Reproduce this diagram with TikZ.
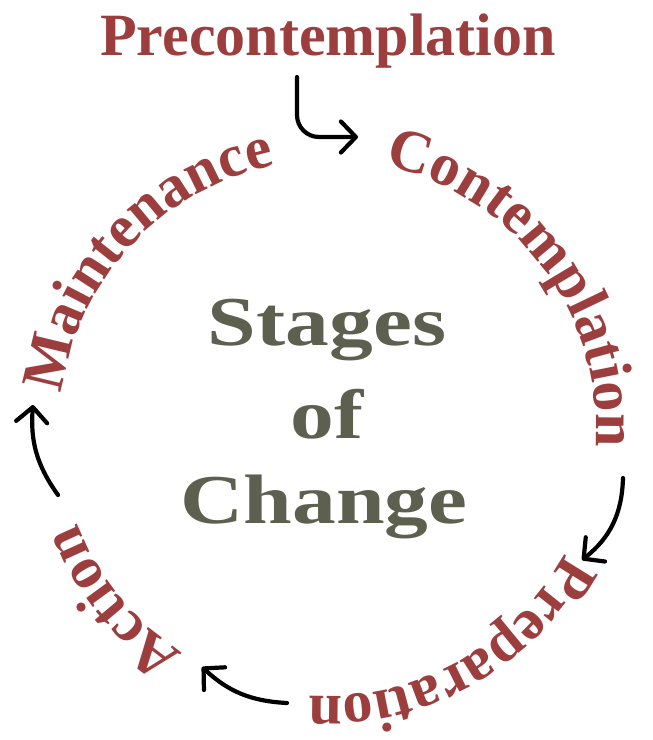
\documentclass[tikz,border=0pt]{standalone}
\usepackage{fontspec}
\usetikzlibrary{decorations.text,arrows.meta}
\newfontfamily\ringserif{Liberation Serif}
\newfontfamily\hubserif[FakeStretch=1.25]{Liberation Serif}
\definecolor{stagered}{RGB}{156,62,62}
\definecolor{hubgrey}{RGB}{94,96,79}
\newcommand\ringfont{\ringserif\bfseries\fontsize{60}{66}\selectfont}
\newcommand\hubfont{\hubserif\bfseries\fontsize{70}{80}\selectfont}

\begin{document}
\begin{tikzpicture}[x=1pt,y=1pt,
  stagelabel/.style={text=stagered,font=\ringfont,inner sep=0pt,anchor=base},
  hubline/.style={text=hubgrey,font=\hubfont,inner sep=0pt,anchor=base},
  flow/.style={draw=black,line width=4.2pt,line cap=round,line join=round,
    -{Straight Barb[length=15pt,width=31pt,round]}},
  ringtext/.style={decorate,decoration={text along path,text align=center,
    text color=stagered,text={|\ringfont|#1}}}
]
% canvas
\fill[white] (0,0) rectangle (653,-740);
\useasboundingbox (0,0) rectangle (653,-740);

% entry stage above the ring
\node[stagelabel] (pre) at (328,-55) {Precontemplation};

% the four ring stages, set clockwise along one circle
\begin{scope}[shift={(328,-428)}]
  \path[ringtext=Contemplation] (97:268) arc[start angle=97,end angle=-23,radius=268];
  \path[ringtext=Preparation] (-1:268) arc[start angle=-1,end angle=-121,radius=268];
  \path[ringtext=Action] (-81:268) arc[start angle=-81,end angle=-201,radius=268];
  \path[ringtext=Maintenance] (197:268) arc[start angle=197,end angle=77,radius=268];
\end{scope}

% title in the middle
\node[hubline] (stages) at (327,-345) {Stages};
\node[hubline] (of) at (327,-438) {of};
\node[hubline] (change) at (324,-523) {Change};

% arrows between stages
\coordinate (h0) at (297,-77);
\coordinate (h1) at (358,-137);
\draw[flow,rounded corners=22pt] (h0) |- (h1);

\coordinate (a1s) at (623,-478);
\coordinate (a1e) at (582,-560);
\draw[flow] (a1s) to[bend left=25] (a1e);

\coordinate (a2s) at (287,-703);
\coordinate (a2e) at (202,-667);
\draw[flow] (a2s) to[bend left=20] (a2e);

\coordinate (a3s) at (58,-495);
\coordinate (a3e) at (33,-405);
\draw[flow] (a3s) to[bend left=20] (a3e);
\end{tikzpicture}
\end{document}
